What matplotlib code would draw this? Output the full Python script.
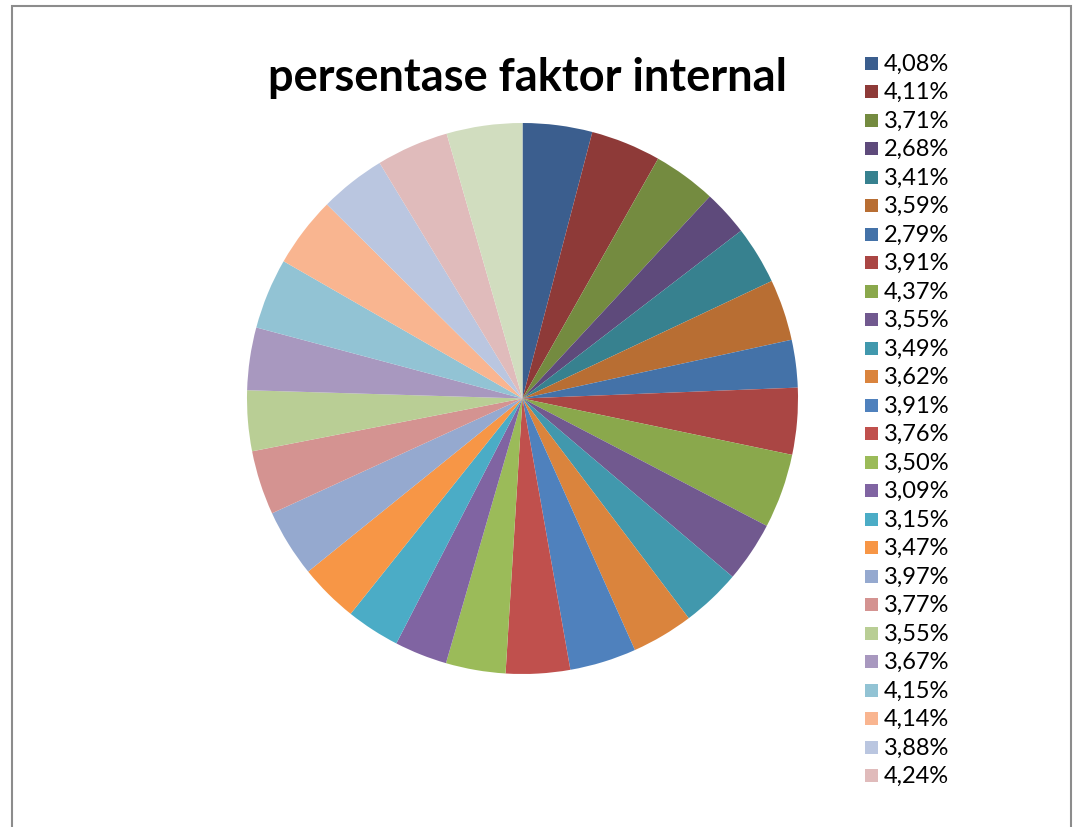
import matplotlib
matplotlib.use("Agg")
import matplotlib.pyplot as plt
from matplotlib.patches import Rectangle

# nilai persentase tiap faktor (legend hanya menampilkan 26 pertama)
nilai = [4.08, 4.11, 3.71, 2.68, 3.41, 3.59, 2.79, 3.91, 4.37, 3.55, 3.49, 3.62,
         3.91, 3.76, 3.50, 3.09, 3.15, 3.47, 3.97, 3.77, 3.55, 3.67, 4.15, 4.14,
         3.88, 4.24, 4.44]
label = [("%.2f%%" % v).replace(".", ",") for v in nilai]

warna = ["#3B5E8E", "#8E3A38", "#748B40", "#5E4A7B", "#37818F", "#B86E33",
         "#4472A8", "#AA4644", "#8AA84C", "#71598F", "#4198AD", "#DA843D",
         "#4F81BD", "#C0504D", "#9BBB59", "#8064A2", "#4BACC6", "#F79646",
         "#95A9CF", "#D49391", "#B9CE95", "#A898BF", "#92C3D4", "#F9B590",
         "#BAC6E0", "#E0BBBB", "#D1DDBF"]

W, H = 1078, 828
fig = plt.figure(figsize=(W / 100, H / 100), dpi=100)

# bingkai abu-abu chart
fig.patches.append(Rectangle((12 / W, -0.01), (1071 - 12) / W, 1.01 - 7 / H,
                             transform=fig.transFigure, fill=False,
                             edgecolor="#8C8C8C", linewidth=1.5))

cx, cy, r = 522.5, 399.5, 275.5
ax = fig.add_axes([(cx - r) / W, 1 - (cy + r) / H, 2 * r / W, 2 * r / H])
wedges, _ = ax.pie(nilai, colors=warna, startangle=90, counterclock=False,
                   radius=1, wedgeprops=dict(linewidth=0))
ax.set_xlim(-1, 1)
ax.set_ylim(-1, 1)
ax.set_aspect("equal")
ax.axis("off")

fig.text(527 / W, 1 - 78 / H, "persentase faktor internal", ha="center",
         va="center", fontsize=32.5, fontweight="bold", family="Lato")

# legend manual (hanya 26 entri yang muat)
for i in range(26):
    y = 64 + i * 28.5
    fig.patches.append(Rectangle((865 / W, 1 - (y + 6.5) / H), 13 / W, 13 / H,
                                 transform=fig.transFigure,
                                 facecolor=warna[i], edgecolor="none"))
    fig.text(884 / W, 1 - y / H, label[i], ha="left", va="center",
             fontsize=17, family="Lato")

fig.savefig("out.png", dpi=100)
